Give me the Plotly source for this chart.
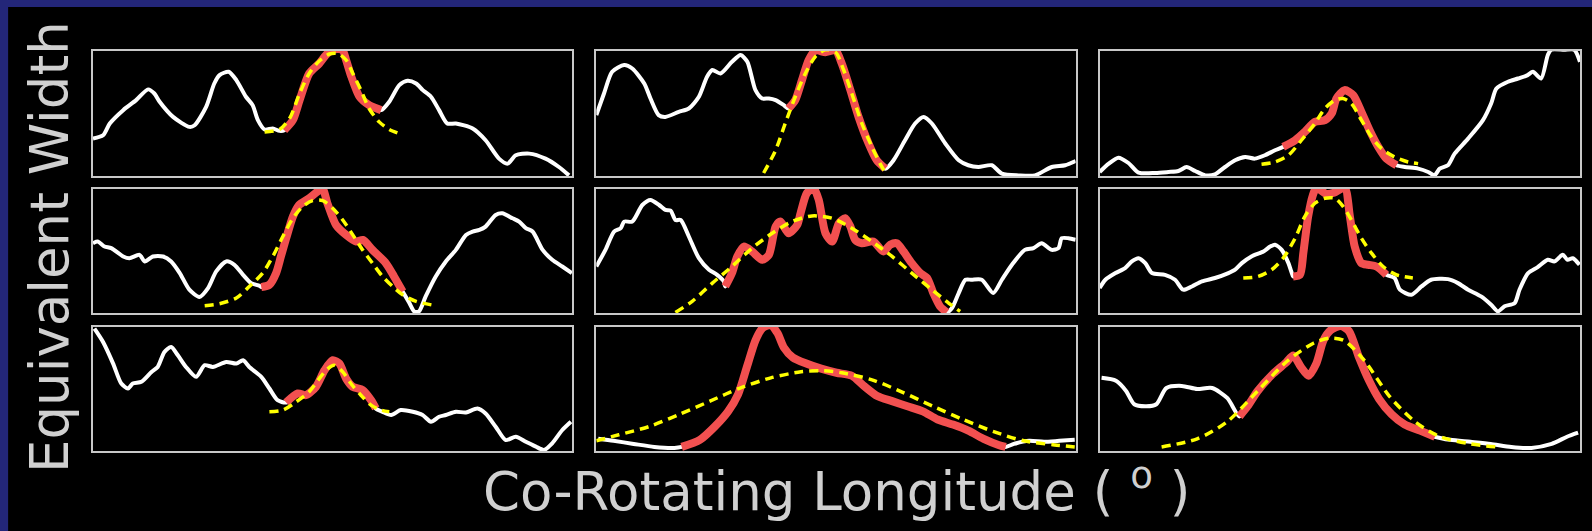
import plotly.graph_objects as go

# ---------------- data (normalised longitude 0-100, EW 0-100 per panel) ----------------
p1_x = [0,2.1,3.5,6.3,9,11.5,12.8,13.9,16.7,20.1,21.2,23.6,25.3,26.4,28.3,29.9,31.9,33.3,34.4,35.8,37.5,38.9,39.9,41.7,43.1,45.1,47.2,48.6,50,52,52.8,53.9,55.6,57.6,60.1,61.8,63.9,65.6,67.4,68.8,70.5,72.2,73.9,75.7,79.2,81.9,84.7,86.5,88.2,91,94.4,97.2,99.3]
p1_y = [30,32.6,42,52.7,60.7,69.3,66,59.4,47.3,39.3,40.6,55.3,74,80.7,83.4,76.7,63.4,56.7,44.7,37.2,38,36.1,36.6,44.7,60.7,82,90,96.8,101,101,92.8,79.4,63.4,56.7,52.7,59.4,72.7,76.2,74,68.7,63.4,52.7,42,42,38,28.6,13.9,9.9,16.6,17.9,13.9,7.2,0.5]
p1_fit_x = [35.8,38.9,41,43.1,45.1,47.2,49.3,51,52.8,54.2,55.9,57.6,59.7,61.8,63.9]
p1_fit_y = [35.3,37.2,46,66,82,92,97.6,98,92.8,82,68.7,54,43.3,37.2,34]

p2_x = [0,1.6,3.3,5.8,7.5,10,11.3,13,14.4,17.2,19.3,21.4,23.1,24.2,25.9,28.3,30.1,31.5,33.2,34.6,36,37.4,39.1,40.1,41.5,42.9,44.3,45.7,47.8,49.9,51.2,53,54.7,56.8,58.5,60.3,62,64.4,66.5,68.3,70,72.8,75.6,77.6,79.7,82.5,84.6,88.1,91.5,95,97.8,100]
p2_y = [48.7,66,83.4,88.8,86,74,62,48.7,47.3,51.3,54,63.4,79.4,84.8,82,91.4,96.8,91.4,68.7,62,62,60.7,56.7,54,60.7,76.7,92.8,100.5,99,100.5,90,68.7,47.3,26,12.6,5.9,12.6,28.6,42,47.3,42,26,12.6,8.6,7.2,8.6,1.9,0.5,0.5,7.2,8.6,12]
p2_fit_x = [34.9,37.4,39.4,41.5,43.6,45.7,47.8,49.9,51.6,53.3,55.4,57.5,59.2,60.6]
p2_fit_y = [2.4,20.6,42,63.4,82,95.5,101,99,84.8,66,42,23.3,9.9,0.5]

p3_x = [0,1.9,3.9,6,8.1,11.6,14.3,16.4,18.1,19.9,22,24,26.1,28.2,30.3,32.3,34.4,36.5,38.2,40.7,42.7,44.8,46.9,48.3,49.3,51,52.8,54.5,56.2,58,59.7,61.8,63.5,66.3,68.4,69.7,70.8,72.5,73.9,76.7,79.8,81.5,82.6,85,87.1,89.1,90.2,91.9,93.3,94,96.7,98.8,100]
p3_y = [3.2,9.9,14.7,10.4,2.7,2.4,3.2,4,7.2,4,0.5,1.3,7.2,12.6,15.2,13.9,16.6,20.6,23.3,28.6,35.3,43.3,44.7,50,62,68.7,64.7,51.3,36.6,23.3,13.9,8.6,7.2,5.9,3.2,0.5,5.9,8.6,17.9,29.9,44.7,58,70,75.4,78,80.7,83.4,78,96.8,101,101,101,91.4]
p3_fit_x = [33.7,36.5,39.3,42,44.8,46.9,49,50.7,52.4,54.5,56.6,58.7,61.4,64.2,66.3]
p3_fit_y = [9.4,11.2,16.6,28.6,42,54,60.7,62,58,44.7,31.3,21.9,15.2,11.2,9.9]

p4_x = [0,1,2.4,3.8,6.3,7.6,9.7,10.8,12.5,14.6,16.3,18.1,20.1,22.2,24,25.7,27.8,29.5,31.3,33,34.7,35.1,36.8,38.2,39.2,40.3,41.7,43,45.1,46.5,47.9,48.9,50.7,52.8,54.9,56.3,58.3,61.1,62.8,64.6,66,67,68,69.4,71.5,73.6,75.7,77.8,79.2,80.6,81.9,84,85.4,87.5,88.9,90.3,91.7,93.8,95.8,97.9,99.9]
p4_y = [56.3,57.6,53.6,52.3,45.6,44.2,46.9,41.6,45.6,45.6,41.6,32.2,18.8,12.9,20.1,33.5,41.6,38.9,30.8,24.1,22,20.9,22.8,32.2,45.6,60.3,77.7,87.1,92.5,97,100,88.5,71,63,57.6,58.9,50.9,40.2,29.5,17.4,8,1.3,1.3,13.4,29.5,41.6,50.9,63,65.7,67,69.7,79.1,80.4,76.4,73.7,68.4,65.7,50.9,42.9,37.5,32.2]
p4_fit_x = [23.3,26.4,29.9,32.6,35.4,37.5,39.6,41.7,43.75,45.8,47.9,50,52.1,54.2,56.25,58.3,60.4,62.5,64.6,67.4,71.5]
p4_fit_y = [5.9,7.5,12.1,21.4,32.2,45.6,61.7,76.4,85.8,90.6,90.6,84.5,75,63,50.9,40.2,29.5,21.4,14.7,9.4,5.9]

p5_x = [0,1.9,3.7,5.1,5.8,7.5,9.6,11.3,13.1,14.4,15.5,16.5,17.6,19.3,21.4,23.5,25.2,26.6,26.9,28.3,29.4,30.8,32.5,34.6,36,37.4,38.4,40.1,41.9,42.6,43.9,45.3,46.4,47.8,49.2,50.6,51.9,53,54,55.4,57.8,59.9,61.3,62.7,64.1,65.8,67.6,69,70.3,71.7,73.1,74.2,75.6,77,78.3,80.4,82.8,84.6,86.7,89.4,91.2,92.9,95,96.4,97.1,98.5,100]
p5_y = [37.5,50.9,65.7,68.4,73.7,73.7,87.1,91.2,87.1,83.1,82.6,75,75,61.7,44.2,34.9,30.8,25.5,21.4,32.2,45.6,53.6,49.6,42.9,46.9,69.7,73.7,64.3,71,80.4,96.5,101,91.2,64.3,57.6,72.4,76.4,69.7,59,56.3,57.6,49.6,55,56.3,49.6,40.2,32.2,28.2,16.1,5.4,0.5,4,16.1,26.8,26.8,26.8,16.1,26.8,38.9,50.9,52.3,56.3,50.9,52.3,60.3,60.3,59]
p5_fit_x = [16.5,20,24.2,28.3,32.5,36.7,40.8,45,49.2,53.3,57.5,61.7,65.8,70,73.5,75.9]
p5_fit_y = [0.5,9.4,24.1,37.5,52.3,64.3,73.7,78.3,76.4,68.4,57.6,45.6,32.2,18.8,8,1.3]

p6_x = [0,1.2,3.3,5.3,6.7,8.1,9.5,10.9,13.6,15.7,17.4,19.2,21.3,24,26.8,28.2,29.6,31.6,34.1,35.5,36.5,37.9,39.3,39.9,40.3,41.7,42.4,43.4,44.4,45.1,47.2,48.8,51,52.1,53.1,54.5,55.9,57.6,59.7,61.4,62.5,64.9,67,69,72.5,74.6,76.7,79.4,81.5,82.9,84.3,86.4,87.4,89.2,91.2,93.3,94.7,96.4,97.4,98.5,99.9]
p6_y = [20.1,26.8,32.2,36.2,41.6,44.2,40.2,32.2,30.8,26.8,18.8,21.4,25.5,28.2,32.2,34.9,40.2,45.6,49.6,53.6,55,50.9,40.2,33.5,29.5,30.8,48.3,77.7,95.2,101,96,97,101,77.7,53.6,40.2,38.9,37.5,30.8,28.2,18.8,14.7,21.4,26.8,27.3,24.1,18.8,13.4,6.7,1.3,5.4,8,18.8,32.2,37,42.9,41.6,46.9,42.9,44.2,38.9]
p6_fit_x = [29.9,33,35.8,38.2,40.7,42.7,44.8,46.9,49,50.7,52.4,54.5,56.6,59,61.8,65.2]
p6_fit_y = [28.2,29.5,34.9,44.2,60.3,77.7,88.5,92.5,92.5,85.8,75,60.3,48.3,37.5,30.8,28.2]

p7_x = [0.3,2.1,4.2,5.9,7.3,8.3,10.1,12.2,13.5,14.9,16.3,17.7,19.4,21.5,23.3,25,27.8,29.9,31.3,32.6,35.1,36.8,38.5,40.3,42.7,44.4,46.5,48.3,50,51.4,52.8,54.2,56.25,58,59,60.4,62.2,64.2,66.7,68.75,70.5,72.2,73.6,75.7,77.8,80.2,81.9,84,86.1,88.2,90.3,92.4,94.1,95.8,97.9,99.7]
p7_y = [98.7,87.9,70.5,54.4,50.4,54.4,55.8,63.8,67.8,79.9,83.9,77.2,67.8,59.8,69.2,67.8,71.8,70.5,73.2,67.8,59.8,50.4,41,39.1,46.4,45,51.7,65.1,73.2,70.5,58.4,51.7,49.1,41,34.3,31.6,29,33,31.6,29,23.6,27.6,29,31.6,31.1,34.3,30.3,19.6,8.8,11.5,7.5,3.5,0.8,6.2,16.9,23.6]
p7_fit_x = [36.8,39.6,42.4,45.1,47.2,49,50.3,52.1,53.8,55.9,58,60.1,61.8]
p7_fit_y = [31.6,33,39.7,47.7,58.4,66.5,69.2,63.8,54.4,45,37,33,31.6]

p8_x = [0.4,3.6,7.8,12.1,16.3,17.8,21.6,24.7,27.5,29.6,31.5,33.2,34.7,36.4,37.8,39.1,41,43.8,46.9,50.1,53.3,55.8,58.6,61.7,64.9,68.1,71.2,74.4,77.6,80.8,83.9,85.4,87.1,90.3,93.4,96.6,99.8]
p8_y = [9.8,8.2,5.7,3.3,2.5,3.3,9,19.7,32,45.9,68.9,89.3,99.2,101.6,95,83.6,75.4,70.5,66.4,63.1,60.7,52.5,44.3,40.2,36.1,32,25.4,21.3,16.4,9.8,4.9,3.3,5.7,8.2,7.4,8.2,9]
p8_fit_x = [0,4.7,11,17.3,23.7,30,36.4,42.7,46.9,51.2,57.5,63.8,70.2,76.5,82.9,89.2,95.6,99.8]
p8_fit_y = [8.2,13.1,19.7,29.5,40.2,50.8,59,63.9,64.8,63.1,57.4,47.5,36.1,25.4,15.6,8.2,4.9,3.3]

p9_x = [0.4,3.4,5.5,7.2,9.7,11.8,13.9,17.1,20.3,23.4,26.6,29.1,30.8,32.9,36.1,38.8,40.3,42,43.5,45.1,46.6,48.1,50.2,51.9,54,56.1,58.2,60.8,63.5,66.7,69.8,73,77.2,81.4,85.7,89.9,94.1,97.3,99.6]
p9_y = [59,56.6,48.4,37.7,36.1,37.7,50.8,52.5,50,50.8,42.6,27.9,36.1,48.4,62.3,71.3,77,67.2,60.7,70.5,89.3,97.5,100.8,96.7,75.4,56.6,41.8,29.5,21.3,16.4,11.5,9,7.4,5.7,3.3,2.5,5.7,11.5,14.8]
p9_fit_x = [12.9,20.3,26.6,32.9,39.2,44.5,47.7,50.8,55.1,60.3,65.6,70.9,77.2,82.5]
p9_fit_y = [3.3,9.8,23.8,48.4,73,86.9,91,89.3,73,44.3,23.8,11.5,5.7,3.3]

# fitting windows (start, end) for the highlighted segment of each panel
fit_windows = [(39.9, 60.1), (40.1, 60.3), (38.2, 61.8),
               (35.1, 64.6), (26.9, 73.1), (40.0, 59.7),
               (40.3, 59.0), (17.8, 85.4), (29.1, 69.8)]

x_title = "Co-Rotating Longitude ( <sup>o</sup> )"
y_title = "Equivalent Width"

# ---------------- figure ----------------
panels = [(p1_x, p1_y, p1_fit_x, p1_fit_y), (p2_x, p2_y, p2_fit_x, p2_fit_y), (p3_x, p3_y, p3_fit_x, p3_fit_y),
          (p4_x, p4_y, p4_fit_x, p4_fit_y), (p5_x, p5_y, p5_fit_x, p5_fit_y), (p6_x, p6_y, p6_fit_x, p6_fit_y),
          (p7_x, p7_y, p7_fit_x, p7_fit_y), (p8_x, p8_y, p8_fit_x, p8_fit_y), (p9_x, p9_y, p9_fit_x, p9_fit_y)]

W, H = 1592, 531
ML, MR, MT, MB = 93, 10, 51, 80
PW = W - ML - MR
PH = H - MT - MB

col_px = [(93, 573), (597, 1077), (1101, 1582)]
row_px = [(51, 176), (189, 313), (327, 451)]

def xd(a, b):
    return [(a - ML) / PW, (b - ML) / PW]

def yd(top, bot):
    return [(MT + PH - bot) / PH, (MT + PH - top) / PH]

fig = go.Figure()
layout = {}
BORDER = "#c8c8c8"
for i, (xs, ys, fx, fy) in enumerate(panels):
    r, c = divmod(i, 3)
    n = i + 1
    xa = "x" if n == 1 else f"x{n}"
    ya = "y" if n == 1 else f"y{n}"
    a, b = fit_windows[i]
    rx = [x for x in xs if a <= x <= b]
    ry = [y for x, y in zip(xs, ys) if a <= x <= b]
    fig.add_trace(go.Scatter(x=xs, y=ys, mode="lines", xaxis=xa, yaxis=ya,
                             line=dict(color="white", width=4, shape="spline", smoothing=0.7),
                             hoverinfo="skip", showlegend=False))
    fig.add_trace(go.Scatter(x=rx, y=ry, mode="lines", xaxis=xa, yaxis=ya,
                             line=dict(color="#f25050", width=8, shape="spline", smoothing=0.7),
                             hoverinfo="skip", showlegend=False))
    fig.add_trace(go.Scatter(x=fx, y=fy, mode="lines", xaxis=xa, yaxis=ya,
                             line=dict(color="#ffff00", width=3.5, dash="9px,6px", shape="spline", smoothing=0.8),
                             hoverinfo="skip", showlegend=False))
    axcommon = dict(showgrid=False, zeroline=False, showticklabels=False, ticks="",
                    showline=True, mirror=True, linecolor=BORDER, linewidth=2, fixedrange=True)
    kx = "xaxis" if n == 1 else f"xaxis{n}"
    ky = "yaxis" if n == 1 else f"yaxis{n}"
    layout[kx] = dict(domain=xd(*col_px[c]), range=[0, 100], anchor=ya, **axcommon)
    layout[ky] = dict(domain=yd(*row_px[r]), range=[0, 100], anchor=xa, **axcommon)

fig.update_layout(**layout)

fig.update_layout(
    width=W, height=H,
    margin=dict(l=ML, r=MR, t=MT, b=MB),
    paper_bgcolor="#232679",
    plot_bgcolor="black",
    font=dict(family="DejaVu Sans", color="#d0d0d0"),
    shapes=[dict(type="rect", xref="paper", yref="paper", layer="below",
                 x0=(8 - ML) / PW, x1=(W + 20 - ML) / PW,
                 y0=(MT + PH - (H + 20)) / PH, y1=(MT + PH - 7) / PH,
                 fillcolor="black", line=dict(width=0))],
    annotations=[
        dict(text=x_title, xref="paper", yref="paper", x=(838 - ML) / PW, y=(MT + PH - 488) / PH,
             xanchor="center", yanchor="middle", showarrow=False,
             font=dict(family="DejaVu Sans", size=53, color="#d0d0d0")),
        dict(text=y_title, xref="paper", yref="paper", x=(49 - ML) / PW, y=(MT + PH - 247) / PH,
             xanchor="center", yanchor="middle", textangle=-90, showarrow=False,
             font=dict(family="DejaVu Sans", size=53, color="#d0d0d0")),
    ],
)

fig.write_html("out.html",
               config={"displayModeBar": False, "staticPlot": True},
               post_script="document.body.style.margin='0px';document.body.style.padding='0px';"
                           "document.body.style.overflow='hidden';document.body.style.background='black';")
